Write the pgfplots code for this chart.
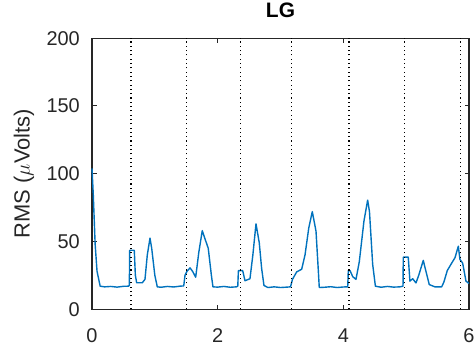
\documentclass[border=0pt]{standalone}
\usepackage{pgfplots}
\pgfplotsset{compat=1.18}
\usepackage{fontspec}
\setmainfont{Liberation Sans}
\definecolor{mblue}{rgb}{0,0.447,0.741}
\definecolor{mgray}{rgb}{0.15,0.15,0.15}
\begin{document}
\begin{tikzpicture}
\begin{axis}[
  scale only axis, width=377bp, height=271bp,
  xmin=0, xmax=6, ymin=0, ymax=200,
  xtick={0,2,4,6}, ytick={0,50,100,150,200},
  tick align=inside, major tick length=4.5bp,
  tick style={mgray, line width=1bp},
  /pgf/number format/assume math mode=true,
  tick label style={font=\fontsize{20}{24}\selectfont, text=mgray},
  xticklabel style={anchor=center, inner sep=0pt, yshift=-26bp},
  yticklabel style={anchor=east, inner sep=0pt, xshift=-12bp},
  axis line style={mgray, line width=1.3bp},
  title={\bfseries LG},
  title style={font=\fontsize{21}{25}\selectfont, at={(axis description cs:0.5,1)}, anchor=center, yshift=21.5bp},
  ylabel={RMS ($\mu$Volts)},
  ylabel style={font=\fontsize{22}{26}\selectfont, text=mgray, at={(axis description cs:-0.1804,0.5)}, anchor=center},
  clip=false,
]
\addplot[mblue, line width=1.4bp, line join=round] coordinates {
(0,104) (0.02,85) (0.05,48) (0.08,28) (0.13,17) (0.2,16.5) (0.3,16.8) (0.4,16.3) (0.5,16.9) (0.58,17)
(0.594,17.5) (0.60,43.5) (0.673,43.5) (0.69,25) (0.711,19.5) (0.80,19.5) (0.843,22) (0.88,40) (0.923,52.5) (0.95,45) (1.00,25) (1.039,16.5) (1.1,16.2) (1.2,16.8) (1.3,16.4) (1.4,17) (1.46,17.2)
(1.48,25) (1.512,28) (1.56,30.5) (1.60,28) (1.65,23.6) (1.70,42) (1.755,58) (1.80,51.7) (1.85,45) (1.90,25) (1.925,16.5) (2.0,16.3) (2.1,16.8) (2.2,16.2) (2.3,16.5) (2.32,17)
(2.33,28.5) (2.398,28.5) (2.435,21) (2.514,22.5) (2.56,40) (2.61,63) (2.662,49) (2.70,30) (2.737,17.5) (2.8,16) (2.9,16.5) (3.0,16) (3.1,16.3) (3.16,16.5)
(3.19,22) (3.257,27.5) (3.337,29.5) (3.39,40) (3.45,60) (3.506,72) (3.565,57.6) (3.60,30) (3.617,16) (3.7,16.2) (3.8,16.6) (3.9,16) (4.0,16.4) (4.07,16.5)
(4.079,28.5) (4.106,28.5) (4.15,24) (4.201,22) (4.254,35) (4.328,65) (4.387,80.5) (4.416,72) (4.467,33) (4.51,17) (4.6,16.2) (4.7,16.8) (4.8,16.3) (4.9,16.5) (4.95,17)
(4.954,38.4) (5.033,38.4) (5.06,20.7) (5.103,22.5) (5.156,19.4) (5.20,25) (5.272,36) (5.315,28) (5.367,18.2) (5.458,16.5) (5.565,16.5) (5.60,20) (5.654,28.5) (5.724,34) (5.777,38) (5.83,46.5) (5.856,36.7) (5.899,34) (5.952,20.7) (6.0,19)
};
\pgfplotsinvokeforeach{0.62,1.51,2.36,3.18,4.09,4.98,5.86}{
  \addplot[black, line width=1.1bp, dash pattern=on 1.1bp off 3.2bp] coordinates {(#1,0) (#1,200)};
}
\end{axis}
\path (current axis.south west) ++(-92bp,-48bp) (current axis.north east) ++(7bp,37bp);
\end{tikzpicture}
\end{document}
